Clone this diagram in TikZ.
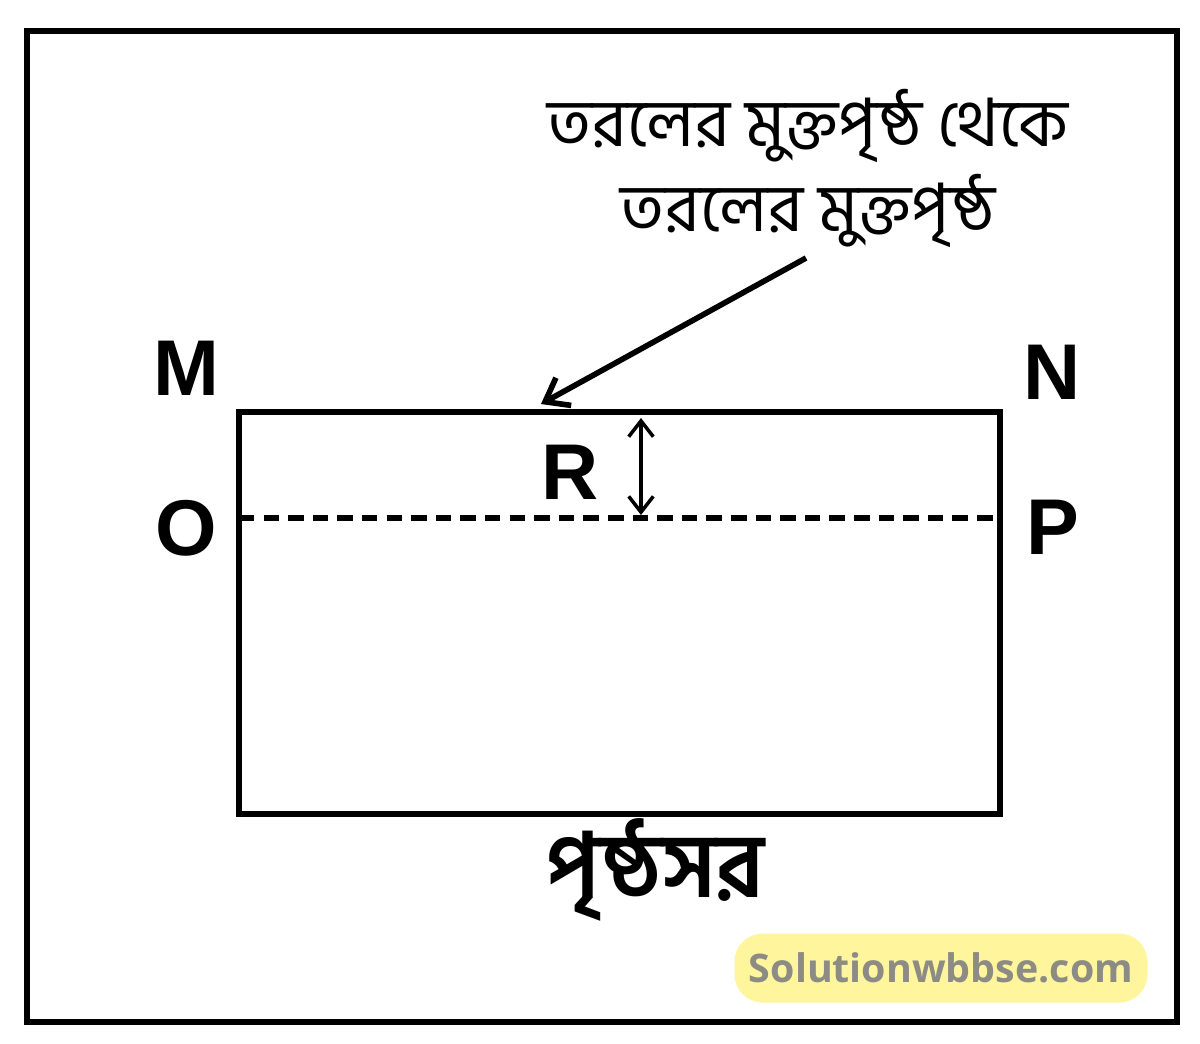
\documentclass[tikz,border=0pt]{standalone}
\usepackage{fontspec}
\setmainfont{Liberation Sans}
\newfontfamily\bangla[Script=Bengali]{Hind Siliguri}
\newfontfamily\markfont{Open Sans}
\usetikzlibrary{arrows.meta,positioning}
\definecolor{markyellow}{HTML}{FFF59D}
\definecolor{markgray}{HTML}{8C8C84}

\begin{document}
\begin{tikzpicture}[x=0.1mm, y=-0.1mm,
	letter/.style={font=\fontsize{22.5}{26}\selectfont\bfseries, inner sep=0pt},
	thick line/.style={line width=1.6pt},
	every node/.style={inner sep=0pt}]
	\useasboundingbox (0,0) rectangle (1200,1043);
	% frame
	\draw[line width=1.8pt] (27,31) rectangle (1177,1022);
	% vessel
	\coordinate (M0) at (239,412);
	\coordinate (N0) at (1000,412);
	\coordinate (Q0) at (239,814);
	\coordinate (S0) at (1000,814);
	\draw[thick line] (M0) rectangle (S0);
	% level line
	\coordinate (O0) at (239,518);
	\coordinate (P0) at (1000,518);
	\draw[line width=1.7pt, dash pattern=on 4.4pt off 2.6pt] (O0) -- (P0);
	% depth
	\coordinate (h1) at (641,418);
	\coordinate (h2) at (641,515);
	\draw[line width=1pt, {Straight Barb[length=4.5pt,width=7pt]}-{Straight Barb[length=4.5pt,width=7pt]}] (h1) -- (h2);
	% labels
	\node[letter] (M) at (186,368) {M};
	\node[letter] (N) at (1052,372) {N};
	\node[letter] (O) at (186,528) {O};
	\node[letter] (P) at (1053,527) {P};
	\node[letter] (R) at (570,472) {R};
	% free surface note
	\node[font=\bangla\fontsize{19}{24.2}\selectfont, align=center] (note) at (808,168)
		{তরলের মুক্তপৃষ্ঠ থেকে\\তরলের মুক্তপৃষ্ঠ};
	\coordinate (tail) at (806,258);
	\coordinate (tip) at (541,404);
	\draw[thick line, -{Straight Barb[length=6pt,width=9pt]}] (tail) -- (tip);
	% bottom
	\node[font=\bangla\bfseries\fontsize{25.5}{30}\selectfont] (base) at (655,870) {পৃষ্ঠসর};
	% watermark
	\node[fill=markyellow, rounded corners=8pt, minimum width=413*0.1mm, minimum height=69*0.1mm,
		font=\markfont\bfseries\fontsize{11.2}{14}\selectfont, text=markgray] (mark) at (941,968) {Solutionwbbse.com};
\end{tikzpicture}
\end{document}
